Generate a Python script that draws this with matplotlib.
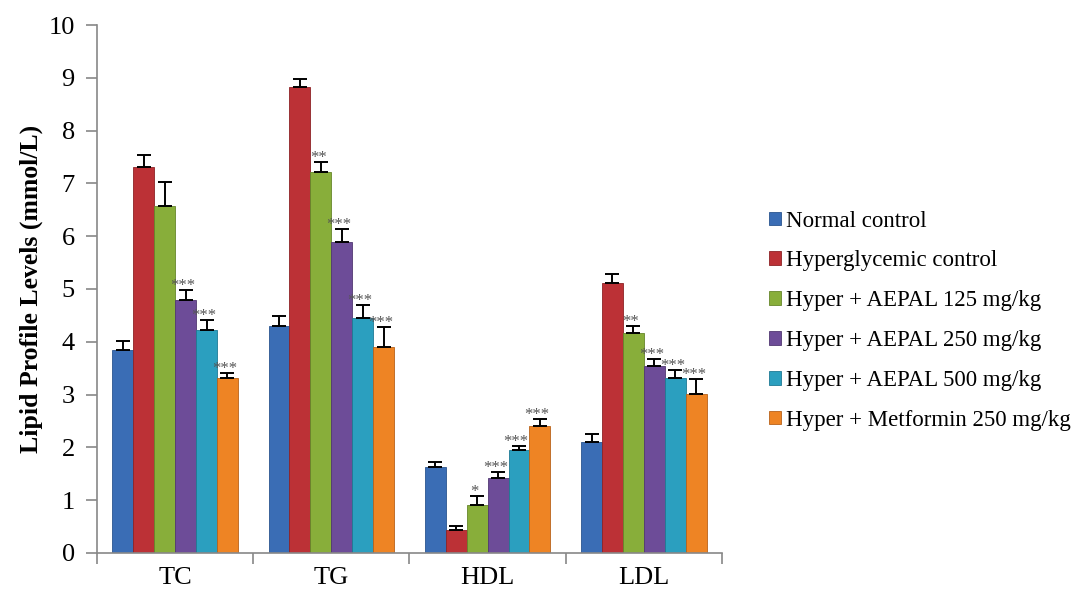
import matplotlib.pyplot as plt
import numpy as np

plt.rcParams['font.family'] = ['Liberation Serif', 'DejaVu Serif']

categories = ['TC', 'TG', 'HDL', 'LDL']
groups = ['Normal control', 'Hyperglycemic control', 'Hyper + AEPAL 125 mg/kg',
          'Hyper + AEPAL 250 mg/kg', 'Hyper + AEPAL 500 mg/kg', 'Hyper + Metformin 250 mg/kg']

# mean values per group, one entry per category (TC, TG, HDL, LDL)
normal = [3.84, 4.30, 1.63, 2.10]
hyper = [7.31, 8.83, 0.44, 5.11]
aepal125 = [6.57, 7.22, 0.91, 4.17]
aepal250 = [4.79, 5.89, 1.42, 3.54]
aepal500 = [4.22, 4.45, 1.95, 3.31]
metformin = [3.31, 3.90, 2.40, 3.01]

# upper error (SEM)
err_normal = [0.17, 0.19, 0.09, 0.15]
err_hyper = [0.23, 0.15, 0.07, 0.17]
err_aepal125 = [0.46, 0.18, 0.17, 0.13]
err_aepal250 = [0.19, 0.24, 0.11, 0.13]
err_aepal500 = [0.19, 0.25, 0.08, 0.15]
err_metformin = [0.10, 0.38, 0.14, 0.29]

sig_normal = ['', '', '', '']
sig_hyper = ['', '', '', '']
sig_aepal125 = ['', '**', '*', '**']
sig_aepal250 = ['***', '***', '***', '***']
sig_aepal500 = ['***', '***', '***', '***']
sig_metformin = ['***', '***', '***', '***']

values = [normal, hyper, aepal125, aepal250, aepal500, metformin]
errors = [err_normal, err_hyper, err_aepal125, err_aepal250, err_aepal500, err_metformin]
sigs = [sig_normal, sig_hyper, sig_aepal125, sig_aepal250, sig_aepal500, sig_metformin]
colors = ['#3A6DB5', '#BC3136', '#88AE3A', '#6D4C98', '#2B9FBF', '#EE8424']
edges = ['#2A5590', '#8E2226', '#66862A', '#513872', '#1E7A94', '#B8621A']

fig = plt.figure(figsize=(10.8, 6.01), dpi=100)
ax = fig.add_axes([0.0898, 0.0799, 0.5787, 0.8785])

x = np.arange(len(categories))
w = 0.134
for i in range(6):
    pos = x + (i - 2.5) * w
    ax.bar(pos, values[i], w, color=colors[i], edgecolor=edges[i], linewidth=0.6,
           label=groups[i], zorder=2)
    ax.errorbar(pos, values[i], yerr=[np.zeros(4), errors[i]], fmt='none',
                ecolor='black', elinewidth=1.4, capsize=5, capthick=1.4, zorder=3)
    for j in range(4):
        if sigs[i][j]:
            ax.annotate(sigs[i][j], (pos[j], values[i][j] + errors[i][j]),
                        xytext=(-2, -3), textcoords='offset points',
                        ha='center', va='bottom', fontsize=12, color='#555555',
                        zorder=4)

ax.set_xlim(-0.5, 3.5)
ax.set_ylim(0, 10)
ax.set_yticks(range(0, 11))
ax.tick_params(axis='y', labelsize=19, length=8, width=1.2, color='#888888', pad=8)
ax.set_xticks(x)
ax.set_xticklabels(categories)
ax.tick_params(axis='x', labelsize=19, length=0, pad=10)
ax.set_xticks(np.arange(-0.5, 4, 1), minor=True)
ax.tick_params(axis='x', which='minor', length=8, width=1.2, color='#888888')
for s in ['top', 'right']:
    ax.spines[s].set_visible(False)
for s in ['left', 'bottom']:
    ax.spines[s].set_color('#888888')
    ax.spines[s].set_linewidth(1.2)
ax.set_ylabel('Lipid Profile Levels (mmol/L)', fontsize=18.5, fontweight='bold', labelpad=4)

ax.legend(loc='center left', bbox_to_anchor=(1.06, 0.44), frameon=False, fontsize=16.5,
          handlelength=0.55, handleheight=0.55, handletextpad=0.2, labelspacing=0.82,
          borderaxespad=0)

fig.savefig('out.png', dpi=100)
